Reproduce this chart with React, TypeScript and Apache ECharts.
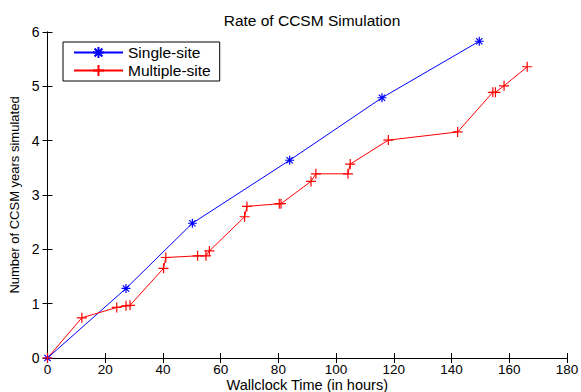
import React, { useEffect, useRef } from "react";
import * as echarts from "echarts";

const singleX = [0, 27.2, 50.2, 83.9, 115.9, 149.6];
const singleY = [0, 1.28, 2.48, 3.64, 4.79, 5.83];

const multiX = [0, 11.9, 24.0, 27.2, 28.6, 40.2, 41.0, 52.0, 54.9, 56.1, 68.3, 69.1, 80.3, 80.9, 91.3, 93.0, 104.1, 104.9, 118.1, 142.1, 154.3, 155.2, 158.2, 166.2];
const multiY = [0, 0.74, 0.93, 0.96, 0.97, 1.65, 1.85, 1.88, 1.88, 1.97, 2.6, 2.79, 2.84, 2.84, 3.25, 3.39, 3.39, 3.57, 4.01, 4.16, 4.89, 4.89, 5.01, 5.36];

const xTicks = { min: 0, max: 180, interval: 20 };
const yTicks = { min: 0, max: 6, interval: 1 };

const FONT = "Liberation Sans, Arial, Helvetica, sans-serif";

const asterisk = "path://M-1 0L1 0M0 -1L0 1M-0.7 -0.7L0.7 0.7M-0.7 0.7L0.7 -0.7";
const plus = "path://M-1 0L1 0M0 -1L0 1";

export default function App() {
  const ref = useRef<HTMLDivElement>(null);
  useEffect(() => {
    const chart = echarts.init(ref.current!, undefined, { renderer: "svg" });
    const axisCommon = {
      axisLine: { show: true, lineStyle: { color: "#000", width: 1 } },
      axisTick: { show: true, inside: true, length: 5, lineStyle: { color: "#000" } },
      splitLine: { show: false },
    };
    chart.setOption({
      animation: false,
      backgroundColor: "#fff",
      title: {
        text: "Rate of CCSM Simulation",
        left: 307,
        textAlign: "center",
        top: 7,
        textStyle: { fontFamily: FONT, fontSize: 15.5, fontWeight: "normal", color: "#000" },
      },
      legend: {
        orient: "vertical",
        left: 63,
        top: 42,
        itemWidth: 49,
        itemHeight: 14,
        itemGap: 1,
        padding: [2, 9, 2, 10],
        borderColor: "#000",
        borderWidth: 1,
        backgroundColor: "#fff",
        textStyle: { fontFamily: FONT, fontSize: 15.5, color: "#000", lineHeight: 17 },
        data: ["Single-site", "Multiple-site"],
      },
      grid: { left: 47.5, right: 14, top: 32, bottom: 34, containLabel: false, outerBoundsMode: "none" },
      xAxis: [
        {
          type: "value",
          ...xTicks,
          name: "Wallclock Time (in hours)",
          nameLocation: "middle",
          nameGap: 27,
          nameMoveOverlap: false,
          nameTextStyle: { fontFamily: FONT, fontSize: 14.5, lineHeight: 14, color: "#000", verticalAlign: "middle" },
          axisLabel: { fontFamily: FONT, fontSize: 13.5, lineHeight: 13, color: "#000", margin: 5 },
          ...axisCommon,
        },
        {
          type: "value",
          ...xTicks,
          position: "top",
          axisLabel: { show: false },
          ...axisCommon,
        },
      ],
      yAxis: [
        {
          type: "value",
          ...yTicks,
          name: "Number of CCSM years simulated",
          nameLocation: "middle",
          nameGap: 27,
          nameMoveOverlap: false,
          nameTextStyle: { fontFamily: FONT, fontSize: 13, color: "#000" },
          axisLabel: { fontFamily: FONT, fontSize: 14, color: "#000", margin: 8 },
          ...axisCommon,
        },
        {
          type: "value",
          ...yTicks,
          position: "right",
          axisLabel: { show: false },
          ...axisCommon,
        },
      ],
      series: [
        {
          name: "Single-site",
          type: "line",
          data: singleX.map((x, i) => [x, singleY[i]]),
          symbol: asterisk,
          symbolSize: 9,
          showAllSymbol: true,
          lineStyle: { color: "#0000ff", width: 1 },
          itemStyle: { color: "#0000ff", borderColor: "#0000ff", borderWidth: 1.2 },
        },
        {
          name: "Multiple-site",
          type: "line",
          data: multiX.map((x, i) => [x, multiY[i]]),
          symbol: plus,
          symbolSize: 10,
          showAllSymbol: true,
          lineStyle: { color: "#ff0000", width: 1 },
          itemStyle: { color: "#ff0000", borderColor: "#ff0000", borderWidth: 1.2 },
        },
      ],
    });
    return () => chart.dispose();
  }, []);
  return <div ref={ref} style={{ width: 581, height: 392, position: "absolute", left: 0, top: 0 }} />;
}
